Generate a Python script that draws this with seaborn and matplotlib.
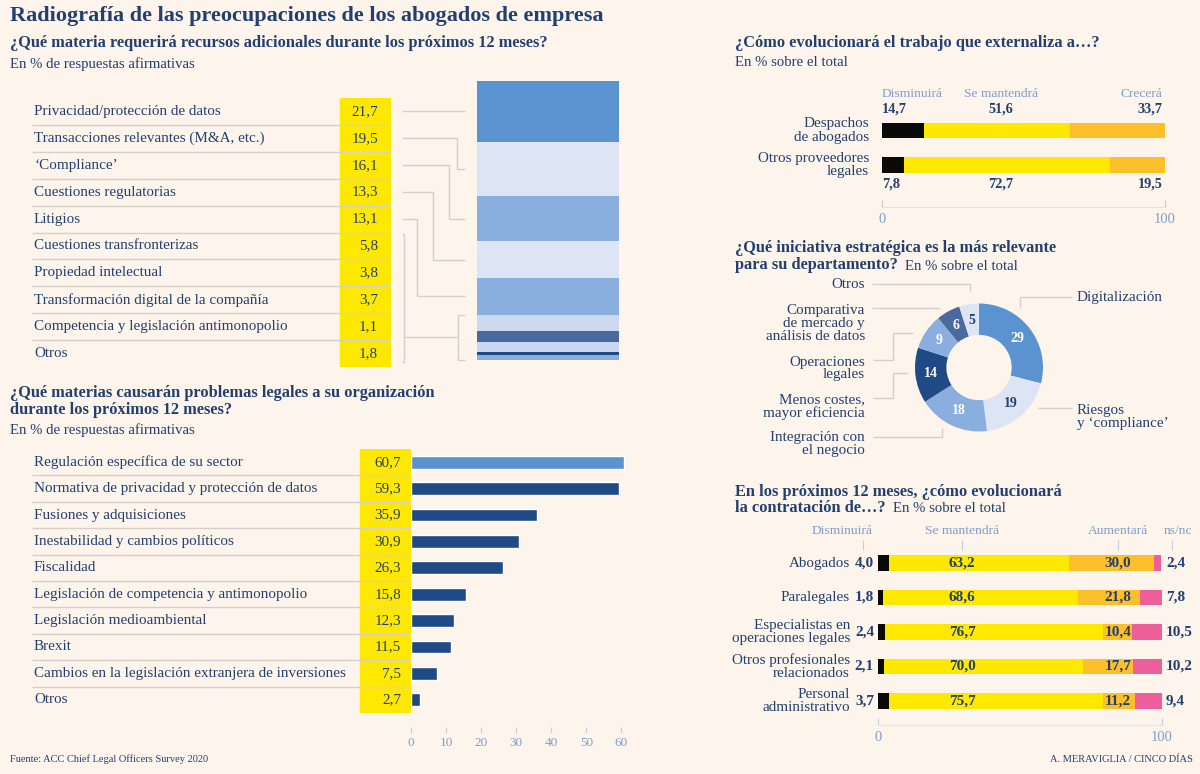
import numpy as np
import pandas as pd
import matplotlib.pyplot as plt
import seaborn as sns

sns.set_theme(style="white")
plt.rcParams['font.family'] = ['Liberation Serif', 'DejaVu Serif']

BG = '#fdf5ec'
NAVY = '#223f6f'
PALE = '#7f9ccc'
GREY = '#d6d0ca'
YELLOW = '#ffe800'
ORANGE = '#fdbf2a'
PINK = '#ec5f9b'
BLACK = '#0a0a0a'

# Recursos adicionales
recursos_labels = ['Privacidad/protección de datos', 'Transacciones relevantes (M&A, etc.)',
                   '‘Compliance’', 'Cuestiones regulatorias', 'Litigios',
                   'Cuestiones transfronterizas', 'Propiedad intelectual',
                   'Transformación digital de la compañía',
                   'Competencia y legislación antimonopolio', 'Otros']
recursos_vals = [21.7, 19.5, 16.1, 13.3, 13.1, 5.8, 3.8, 3.7, 1.1, 1.8]
recursos_colors = ['#5b93d0', '#dde5f5', '#8aaedd', '#dde5f5', '#8aaedd',
                   '#ccdaf0', '#4a6a9f', '#c9d8f0', '#1f4a85', '#8aaedd']

# Problemas legales
problemas_labels = ['Regulación específica de su sector', 'Normativa de privacidad y protección de datos',
                    'Fusiones y adquisiciones', 'Inestabilidad y cambios políticos', 'Fiscalidad',
                    'Legislación de competencia y antimonopolio', 'Legislación medioambiental',
                    'Brexit', 'Cambios en la legislación extranjera de inversiones', 'Otros']
problemas_vals = [60.7, 59.3, 35.9, 30.9, 26.3, 15.8, 12.3, 11.5, 7.5, 2.7]
problemas_colors = ['#5b93d0'] + ['#1f4a85'] * 9

# Trabajo externalizado
extern_cats = ['Despachos\nde abogados', 'Otros proveedores\nlegales']
extern_dism = [14.7, 7.8]
extern_mant = [51.6, 72.7]
extern_crec = [33.7, 19.5]

# Iniciativa estratégica
inic_labels = ['Digitalización', 'Riesgos\ny ‘compliance’', 'Integración con\nel negocio',
               'Menos costes,\nmayor eficiencia', 'Operaciones\nlegales',
               'Comparativa\nde mercado y\nanálisis de datos', 'Otros']
inic_vals = [29, 19, 18, 14, 9, 6, 5]
inic_colors = ['#5b93d0', '#dde5f5', '#8aaedd', '#1f4a85', '#8aaedd', '#4a6a9f', '#dde5f5']
inic_txt = ['white', NAVY, 'white', 'white', 'white', 'white', NAVY]

# Contratación
contr_cats = ['Abogados', 'Paralegales', 'Especialistas en\noperaciones legales',
              'Otros profesionales\nrelacionados', 'Personal\nadministrativo']
contr_dism = [4.0, 1.8, 2.4, 2.1, 3.7]
contr_mant = [63.2, 68.6, 76.7, 70.0, 75.7]
contr_aum = [30.0, 21.8, 10.4, 17.7, 11.2]
contr_nsnc = [2.4, 7.8, 10.5, 10.2, 9.4]

T_MAIN, T_SEC, T_SUB, T_LAB, T_HEAD = 16, 11.8, 10.6, 10.9, 9.7


def fmt(v):
    return f'{v:.1f}'.replace('.', ',')


W, H = 1200, 774
fig = plt.figure(figsize=(12, 7.74), dpi=100, facecolor=BG)

overlay = fig.add_axes([0, 0, 1, 1])
overlay.set_xlim(0, W)
overlay.set_ylim(H, 0)
overlay.axis('off')
overlay.patch.set_alpha(0)


def px_axes(x0, y0, x1, y1):
    ax = fig.add_axes([x0 / W, 1 - y1 / H, (x1 - x0) / W, (y1 - y0) / H])
    ax.set_facecolor('none')
    return ax


def to_px(ax, x, y):
    d = ax.transData.transform((x, y))
    return d[0], H - d[1]


def line(xs, ys):
    overlay.plot(xs, ys, color=GREY, lw=1, solid_capstyle='butt')


# ---- titulos ----
overlay.text(10, 16, 'Radiografía de las preocupaciones de los abogados de empresa',
             fontsize=T_MAIN, fontweight='bold', color=NAVY, va='center')
overlay.text(10, 43, '¿Qué materia requerirá recursos adicionales durante los próximos 12 meses?',
             fontsize=T_SEC, fontweight='bold', color=NAVY, va='center')
overlay.text(10, 64, 'En % de respuestas afirmativas', fontsize=T_SUB, color=NAVY, va='center')
overlay.text(10, 393, '¿Qué materias causarán problemas legales a su organización',
             fontsize=T_SEC, fontweight='bold', color=NAVY, va='center')
overlay.text(10, 410, 'durante los próximos 12 meses?',
             fontsize=T_SEC, fontweight='bold', color=NAVY, va='center')
overlay.text(10, 430, 'En % de respuestas afirmativas', fontsize=T_SUB, color=NAVY, va='center')
overlay.text(10, 759, 'Fuente: ACC Chief Legal Officers Survey 2020', fontsize=7.5, color=NAVY, va='center')
overlay.text(1193, 759, 'A. MERAVIGLIA / CINCO DÍAS', fontsize=7.5, color=NAVY, va='center', ha='right')

overlay.text(735, 43, '¿Cómo evolucionará el trabajo que externaliza a…?',
             fontsize=T_SEC, fontweight='bold', color=NAVY, va='center')
overlay.text(735, 63, 'En % sobre el total', fontsize=T_SUB, color=NAVY, va='center')
overlay.text(735, 248, '¿Qué iniciativa estratégica es la más relevante',
             fontsize=T_SEC, fontweight='bold', color=NAVY, va='center')
overlay.text(735, 265, 'para su departamento?', fontsize=T_SEC, fontweight='bold', color=NAVY, va='center')
overlay.text(905, 266, 'En % sobre el total', fontsize=T_SUB, color=NAVY, va='center')
overlay.text(735, 492, 'En los próximos 12 meses, ¿cómo evolucionará',
             fontsize=T_SEC, fontweight='bold', color=NAVY, va='center')
overlay.text(735, 508, 'la contratación de…?', fontsize=T_SEC, fontweight='bold', color=NAVY, va='center')
overlay.text(893, 509, 'En % sobre el total', fontsize=T_SUB, color=NAVY, va='center')

# ---- recursos adicionales (tabla + barra apilada) ----
ax1 = px_axes(30, 98, 392, 367)
ax1.set_xlim(30, 392)
ax1.set_ylim(9.5, -0.5)
ax1.axis('off')
ax1.axvspan(340, 390, color=YELLOW, zorder=0)
ax1.hlines(np.arange(9) + 0.5, 32, 390, color=GREY, lw=1, zorder=1)
for i, (lab, v) in enumerate(zip(recursos_labels, recursos_vals)):
    ax1.text(34, i, lab, va='center', fontsize=T_LAB, color=NAVY)
    ax1.text(378, i, fmt(v), va='center', ha='right', fontsize=T_LAB, color=NAVY)

ax2 = px_axes(477, 81, 619, 360)
bottoms = np.concatenate([[0], np.cumsum(recursos_vals)[:-1]])
ax2.bar(0, recursos_vals, bottom=bottoms, width=1, color=recursos_colors, linewidth=0)
ax2.set_xlim(-0.5, 0.5)
ax2.set_ylim(sum(recursos_vals), 0)
ax2.axis('off')

mids = bottoms + np.array(recursos_vals) / 2
elbows = [None, 457, 449, 433, 417]
for i in range(5):
    _, ry = to_px(ax1, 0, i)
    _, sy = to_px(ax2, 0, mids[i])
    if elbows[i] is None:
        line([402, 465], [ry, ry])
    else:
        e = elbows[i]
        line([402, e, e, 465], [ry, ry, sy, sy])
_, bt = to_px(ax1, 0, 4.55)
_, bb = to_px(ax1, 0, 9.3)
line([402, 404, 404, 402], [bt, bt, bb, bb])
_, st = to_px(ax2, 0, bottoms[5])
_, sb = to_px(ax2, 0, sum(recursos_vals))
line([465, 458, 458, 465], [st, st, sb, sb])
line([404, 458], [(st + sb) / 2, (st + sb) / 2])

# ---- problemas legales ----
ax3 = px_axes(30, 449, 411, 713)
ax3.set_xlim(30, 411)
ax3.set_ylim(9.5, -0.5)
ax3.axis('off')
ax3.axvspan(360, 411, color=YELLOW, zorder=0)
ax3.hlines(np.arange(9) + 0.5, 32, 411, color=GREY, lw=1, zorder=1)
for i, (lab, v) in enumerate(zip(problemas_labels, problemas_vals)):
    ax3.text(34, i, lab, va='center', fontsize=T_LAB, color=NAVY)
    ax3.text(401, i, fmt(v), va='center', ha='right', fontsize=T_LAB, color=NAVY)

ax4 = px_axes(411, 449, 632, 713)
df_prob = pd.DataFrame({'tema': problemas_labels, 'valor': problemas_vals})
sns.barplot(data=df_prob, x='valor', y='tema', hue='tema', palette=problemas_colors,
            legend=False, orient='h', width=0.48, saturation=1, ax=ax4)
ax4.set_xlim(0, 63)
ax4.set_ylim(9.5, -0.5)
ax4.set_xlabel('')
ax4.set_ylabel('')
ax4.set_yticks([])
ax4.set_xticks(range(0, 70, 10))
for s in ['top', 'right', 'left']:
    ax4.spines[s].set_visible(False)
ax4.spines['bottom'].set_position(('outward', 10))
ax4.spines['bottom'].set_visible(False)
ax4.tick_params(axis='x', bottom=True, length=4.5, width=0.8, color='#c5cfe0',
                labelcolor=PALE, labelsize=9.5, pad=3)

# ---- trabajo externalizado ----
ax5 = px_axes(882, 96, 1165, 207)
y5 = np.arange(len(extern_cats))
ax5.barh(y5, extern_dism, height=0.45, color=BLACK, linewidth=0)
ax5.barh(y5, extern_mant, left=extern_dism, height=0.45, color=YELLOW, linewidth=0)
ax5.barh(y5, extern_crec, left=np.add(extern_dism, extern_mant), height=0.45, color=ORANGE, linewidth=0)
ax5.set_xlim(0, 100)
ax5.set_ylim(-1 + (207 - 96) / 34.5, -1)
ax5.set_yticks([])
ax5.set_xticks([0, 100])
for s in ['top', 'right', 'left']:
    ax5.spines[s].set_visible(False)
ax5.spines['bottom'].set_color('#dfe3ea')
ax5.spines['bottom'].set_linewidth(0.8)
ax5.tick_params(axis='x', bottom=True, direction='in', length=5, width=0.8, color='#c5cfe0',
                labelcolor=PALE, labelsize=10.5, pad=4)
ax5.text(0, -1.06, 'Disminuirá', color=PALE, fontsize=T_HEAD, va='center')
ax5.text(42, -1.06, 'Se mantendrá', color=PALE, fontsize=T_HEAD, va='center', ha='center')
ax5.text(99, -1.06, 'Crecerá', color=PALE, fontsize=T_HEAD, va='center', ha='right')
for yy, i in [(-0.62, 0), (1.55, 1)]:
    ax5.text(0, yy, fmt(extern_dism[i]), color=NAVY, fontsize=10.3, fontweight='bold', va='center')
    ax5.text(42, yy, fmt(extern_mant[i]), color=NAVY, fontsize=10.3, fontweight='bold', va='center', ha='center')
    ax5.text(99, yy, fmt(extern_crec[i]), color=NAVY, fontsize=10.3, fontweight='bold', va='center', ha='right')
for i, c in enumerate(extern_cats):
    ax5.text(-4.5, i, c, color=NAVY, fontsize=T_LAB, va='center', ha='right', linespacing=1.0)

# ---- iniciativa estratégica (donut) ----
ax7 = px_axes(915, 303.5, 1043, 431.5)
ax7.pie(inic_vals, colors=inic_colors, startangle=90, counterclock=False,
        wedgeprops=dict(width=0.49, linewidth=0))
ax7.set_xlim(-1, 1)
ax7.set_ylim(-1, 1)
ax7.set_aspect('equal')
cum = np.cumsum(inic_vals) - np.array(inic_vals) / 2
for v, c, tc in zip(inic_vals, cum, inic_txt):
    ang = np.deg2rad(90 - 360 * c / sum(inic_vals))
    ax7.text(0.75 * np.cos(ang), 0.75 * np.sin(ang), str(v), color=tc, fontsize=10,
             fontweight='bold', ha='center', va='center')

overlay.text(1077, 298, inic_labels[0], fontsize=T_LAB, color=NAVY, va='center')
overlay.text(1077, 417, inic_labels[1], fontsize=T_LAB, color=NAVY, va='center', linespacing=1.05)
overlay.text(865, 444, inic_labels[2], fontsize=T_LAB, color=NAVY, va='center', ha='right', linespacing=1.0)
overlay.text(865, 406.5, inic_labels[3], fontsize=T_LAB, color=NAVY, va='center', ha='right', linespacing=0.95)
overlay.text(865, 368.5, inic_labels[4], fontsize=T_LAB, color=NAVY, va='center', ha='right', linespacing=0.95)
overlay.text(865, 323.5, inic_labels[5], fontsize=T_LAB, color=NAVY, va='center', ha='right', linespacing=0.98)
overlay.text(865, 284, inic_labels[6], fontsize=T_LAB, color=NAVY, va='center', ha='right')
line([1020, 1020, 1072], [308, 297, 297])
line([1038, 1072], [408, 408])
line([872, 970, 970], [284, 284, 291])
line([872, 940], [308, 308])
line([873, 893, 893, 913], [360, 360, 333, 333])
line([873, 893, 893, 908], [398, 398, 373, 373])
line([873, 942, 942], [437, 437, 428])

# ---- contratación ----
ax6 = px_axes(878, 528.5, 1162, 725)
y6 = np.arange(len(contr_cats))
left = np.zeros(len(contr_cats))
for vals, col in [(contr_dism, BLACK), (contr_mant, YELLOW), (contr_aum, ORANGE), (contr_nsnc, PINK)]:
    ax6.barh(y6, vals, left=left, height=0.46, color=col, linewidth=0)
    left = left + np.array(vals)
ax6.set_xlim(0, 100)
ax6.set_ylim(-1 + (725 - 528.5) / 34.5, -1)
ax6.set_yticks([])
ax6.set_xticks([0, 100])
for s in ['top', 'right', 'left']:
    ax6.spines[s].set_visible(False)
ax6.spines['bottom'].set_color('#dfe3ea')
ax6.spines['bottom'].set_linewidth(0.8)
ax6.tick_params(axis='x', bottom=True, direction='in', length=5, width=0.8, color='#c5cfe0',
                labelcolor=PALE, labelsize=10.5, pad=4)
hx = [-12.5, 29.6, 84.5, 105.8]
for x, t in zip(hx, ['Disminuirá', 'Se mantendrá', 'Aumentará', 'ns/nc']):
    ax6.text(x, -0.93, t, color=PALE, fontsize=T_HEAD, ha='center', va='center')
ax6.vlines([-5.3, 29.6, 84.5, 103.5], -0.667, -0.377, color='#c5cfe0', lw=0.8, clip_on=False)
for i in range(len(contr_cats)):
    ax6.text(-9.9, i, contr_cats[i], color=NAVY, fontsize=T_LAB, ha='right', va='center', linespacing=0.98)
    ax6.text(-1.4, i, fmt(contr_dism[i]), color=NAVY, fontsize=11, fontweight='bold', ha='right', va='center')
    ax6.text(29.6, i, fmt(contr_mant[i]), color=NAVY, fontsize=11, fontweight='bold', ha='center', va='center')
    ax6.text(84.5, i, fmt(contr_aum[i]), color=NAVY, fontsize=11, fontweight='bold', ha='center', va='center')
    ax6.text(101.4, i, fmt(contr_nsnc[i]), color=NAVY, fontsize=11, fontweight='bold', ha='left', va='center')

fig.savefig('out.png', dpi=100, facecolor=BG)
